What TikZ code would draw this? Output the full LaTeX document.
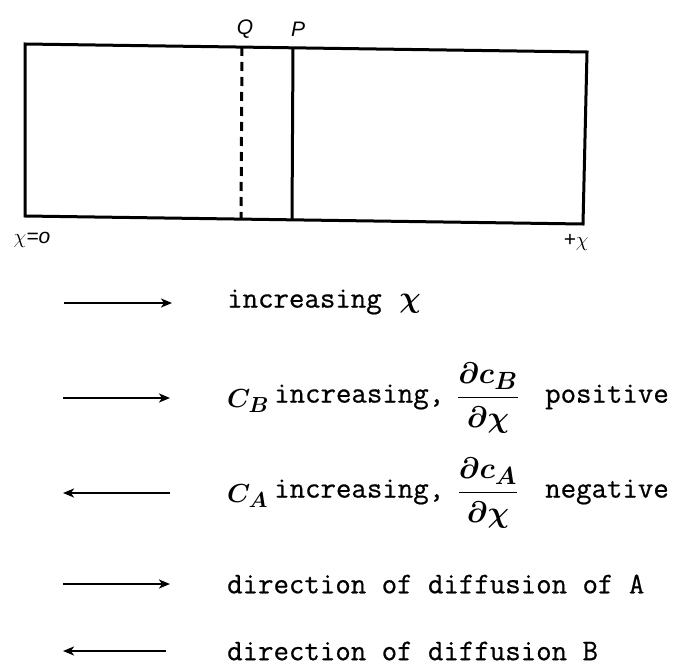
\documentclass[tikz,border=0pt]{standalone}
\usepackage{amsmath}
\usepackage{graphicx}
\usepackage{fontspec}
\newfontfamily\hand{Liberation Sans}
\newfontfamily\typew[FakeBold=0.6]{Latin Modern Mono}
\usetikzlibrary{arrows.meta}
\newcommand{\legmathbox}[1]{\scalebox{1.2}{\Huge\boldmath$#1$}}
\newcommand{\legsymbox}[1]{\scalebox{1.05}{\Huge\boldmath$#1$}}
\tikzset{
  line/.style={line width=3pt},
  legendarrow/.style={line width=2.2pt,-{Stealth[length=11pt,width=9pt,inset=3pt]}},
  legtext/.style={anchor=west,font=\fontsize{30}{34}\selectfont\typew,inner sep=0pt},
  legmath/.style={inner sep=0pt},
  lbl/.style={font=\fontsize{21}{24}\selectfont\hand\itshape,inner sep=0pt},
}
\begin{document}
\begin{tikzpicture}[x=1pt,y=-1pt]
\useasboundingbox (0,0) rectangle (676,671);
% box corners
\coordinate (tl) at (25,44);
\coordinate (tr) at (587,52);
\coordinate (br) at (583,224);
\coordinate (bl) at (25,216);
\draw[line,line join=miter] (tl) -- (tr) -- (br) -- (bl) -- cycle;
\coordinate (qt) at (242,47);
\coordinate (qb) at (241,218);
\coordinate (pt) at (293,48);
\coordinate (pb) at (292,219);
\draw[line,dash pattern=on 9pt off 6pt] (qt) -- (qb);
\draw[line] (pt) -- (pb);
\node[lbl] (Q) at (245,29) {Q};
\node[lbl] (P) at (298,29) {P};
\node[lbl] (x0) at (32,240) {$\chi$=o};
\node[lbl] (xp) at (576,242) {+$\chi$};
% legend
\coordinate (a1s) at (64,303); \coordinate (a1e) at (172,303);
\coordinate (a2s) at (63,398); \coordinate (a2e) at (170,398);
\coordinate (a3s) at (170,493); \coordinate (a3e) at (63,493);
\coordinate (a4s) at (63,584); \coordinate (a4e) at (170,584);
\coordinate (a5s) at (166,651); \coordinate (a5e) at (63,651);
\draw[legendarrow] (a1s) -- (a1e);
\draw[legendarrow] (a2s) -- (a2e);
\draw[legendarrow] (a3s) -- (a3e);
\draw[legendarrow] (a4s) -- (a4e);
\draw[legendarrow] (a5s) -- (a5e);
% row 1
\node[legtext] (t1) at (227,302) {increasing};
\node[legmath] (t1x) at (410,304) {\legmathbox{\chi}};
% row 2
\node[legmath,anchor=west] (t2c) at (227,401) {\legsymbox{C_B}};
\node[legtext] (t2a) at (274,397) {increasing,};
\node[legmath] (t2f) at (488,398) {\legmathbox{\dfrac{\partial c_B}{\partial \chi}}};
\node[legtext] (t2b) at (545,397) {positive};
% row 3
\node[legmath,anchor=west] (t3c) at (227,496) {\legsymbox{C_A}};
\node[legtext] (t3a) at (274,492) {increasing,};
\node[legmath] (t3f) at (488,493) {\legmathbox{\dfrac{\partial c_A}{\partial \chi}}};
\node[legtext] (t3b) at (545,492) {negative};
% rows 4, 5
\node[legtext] (t4) at (227,584) {direction of diffusion of A};
\node[legtext] (t5) at (227,651) {direction of diffusion B};
\end{tikzpicture}
\end{document}
